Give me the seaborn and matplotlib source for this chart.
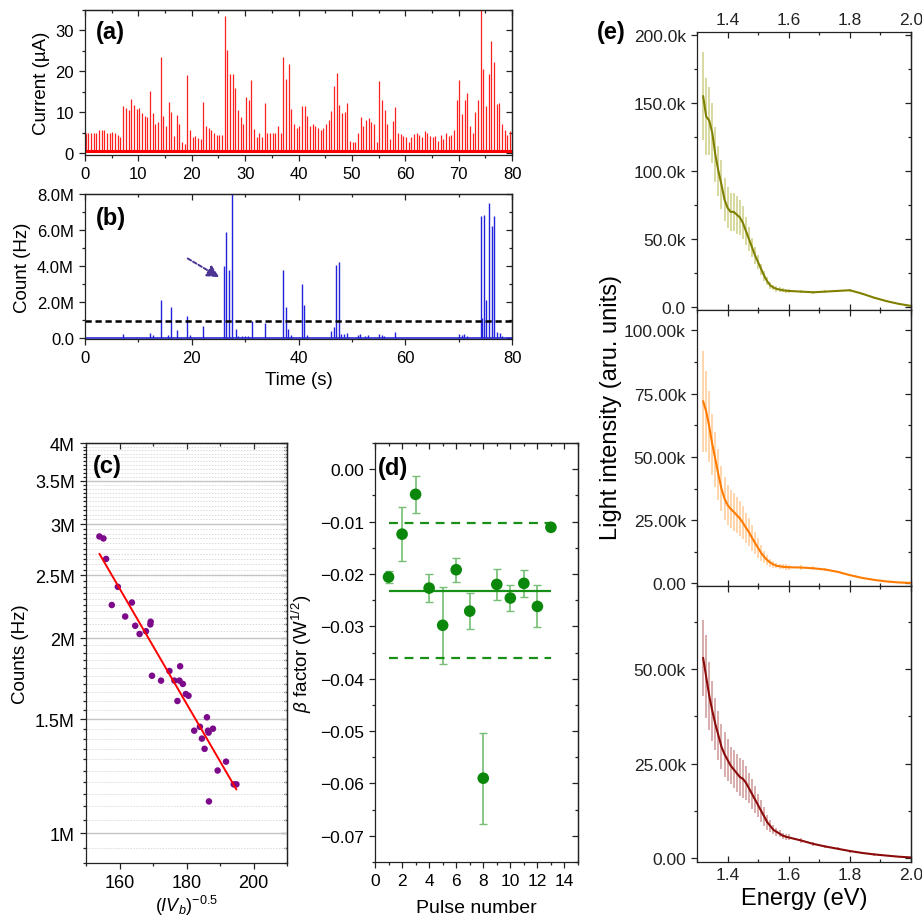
import numpy as np
import seaborn as sns
import matplotlib
matplotlib.use("Agg")
import matplotlib.pyplot as plt
from matplotlib.ticker import MultipleLocator, FixedLocator, FuncFormatter, NullFormatter

# (a) current pulses, one every 0.5 s
pulse_step_s = 0.5
pulse_offset_s = 0.15
current_baseline = 0.6
current_ua = [
    4.8, 4.9, 4.8, 5.0, 4.8, 5.5, 5.5, 5.5, 5.0, 4.8, 5.2, 5.0, 4.3, 4.0,
    11.5, 11.0, 10.5, 13.2, 11.8, 10.8, 11.0, 9.8, 9.0, 8.8, 15.2, 9.7, 7.0, 7.5,
    23.5, 9.0, 6.5, 12.4, 10.0, 4.2, 9.2, 7.0, 2.6, 2.2, 19.2, 5.5, 4.0, 4.2,
    3.7, 3.5, 12.4, 6.5, 6.0, 5.5, 5.0, 4.5, 4.5, 4.5, 33.5, 25.3, 19.3, 19.4,
    16.0, 10.6, 8.7, 7.0, 13.7, 13.0, 17.8, 5.8, 4.0, 4.8, 4.0, 12.2, 5.0, 5.0,
    4.8, 5.0, 6.5, 4.8, 23.6, 18.2, 21.8, 10.8, 7.0, 6.0, 6.5, 11.5, 11.5, 9.0,
    6.5, 7.0, 6.5, 6.0, 5.5, 6.2, 7.0, 8.0, 10.2, 16.5, 19.5, 11.7, 9.7, 10.1,
    12.3, 3.0, 2.6, 2.6, 4.8, 8.8, 6.6, 8.0, 8.5, 7.5, 7.0, 2.6, 17.5, 13.0,
    10.5, 7.0, 3.4, 7.9, 11.2, 5.0, 4.7, 4.2, 3.8, 2.8, 4.0, 4.7, 5.0, 4.4,
    4.0, 5.4, 4.8, 4.2, 4.0, 4.2, 3.0, 4.3, 3.5, 4.8, 4.2, 4.3, 5.7, 13.0,
    17.8, 9.5, 12.9, 14.6, 6.5, 5.0, 10.0, 13.0, 35.0, 20.6, 11.4, 19.4, 27.3, 22.2,
    11.9, 12.3, 7.0, 5.5, 4.4, 5.3,
]

# (b) photon count spikes (MHz)
count_time = [7.2, 12.2, 12.7, 14.2, 15.5, 16.1, 17.2, 19.2, 19.7, 22.2,
              26.1, 26.5, 27.0, 27.6, 28.2, 28.7, 29.5, 30.0, 30.5, 31.2,
              33.7, 37.1, 37.6, 38.1, 38.6, 40.6, 41.1, 41.6, 46.1, 46.6,
              47.1, 47.5, 48.0, 48.5, 49.1, 51.1, 51.6, 52.5, 53.1, 55.1,
              55.6, 56.1, 58.1, 70.1, 70.6, 71.1, 71.6, 74.1, 74.4, 74.8,
              75.2, 75.7, 76.2, 76.7, 77.2, 77.7, 78.2]
count_mhz = [0.25, 0.3, 0.15, 2.1, 0.15, 1.75, 0.45, 1.2, 0.15, 0.65,
             4.0, 5.9, 3.8, 8.1, 0.5, 0.12, 0.1, 0.1, 0.1, 0.95,
             0.85, 3.8, 1.7, 0.5, 0.15, 3.0, 1.85, 0.15, 0.4, 0.6,
             4.05, 4.2, 0.2, 0.2, 0.3, 0.15, 0.2, 0.1, 0.15, 0.2,
             0.15, 0.1, 0.35, 0.22, 0.15, 0.2, 0.1, 6.8, 1.1, 6.85,
             2.1, 7.5, 6.2, 6.8, 0.35, 0.3, 0.1]
count_threshold_mhz = 0.95

# (c) counts vs (I V_b)^-0.5
iv_inv_sqrt = [154.0, 155.2, 156.0, 159.5, 157.7, 163.7, 161.7, 164.7, 166.0, 167.9,
               169.3, 169.2, 169.7, 172.4, 174.9, 176.4, 177.3, 178.1, 177.9, 178.9,
               179.8, 180.6, 182.3, 184.0, 184.6, 185.4, 186.1, 186.4, 186.6, 187.9,
               186.7, 189.3, 191.8, 194.1, 194.9]
counts_m = [2.87, 2.85, 2.65, 2.40, 2.25, 2.27, 2.16, 2.09, 2.03, 2.05,
            2.12, 2.10, 1.75, 1.72, 1.78, 1.72, 1.60, 1.81, 1.72, 1.70,
            1.64, 1.63, 1.44, 1.46, 1.40, 1.35, 1.51, 1.44, 1.43, 1.45,
            1.12, 1.25, 1.29, 1.19, 1.19]

# (d) beta factor per pulse
pulse_no = [1, 2, 3, 4, 5, 6, 7, 8, 9, 10, 11, 12, 13]
beta = [-0.0206, -0.0124, -0.0048, -0.0227, -0.0298, -0.0192, -0.0271,
        -0.0590, -0.0220, -0.0246, -0.0218, -0.0262, -0.0111]
beta_err = [0.0012, 0.0051, 0.0035, 0.0027, 0.0074, 0.0023, 0.0034,
            0.0087, 0.0030, 0.0025, 0.0026, 0.0040, 0.0003]

# (e) emission spectra (k counts)
energy_ev = [1.32, 1.33, 1.34, 1.35, 1.36, 1.37, 1.38, 1.39, 1.40, 1.41,
             1.42, 1.43, 1.44, 1.45, 1.46, 1.47, 1.48, 1.49, 1.50, 1.51,
             1.52, 1.53, 1.54, 1.55, 1.56, 1.57, 1.58, 1.59, 1.60, 1.64,
             1.68, 1.72, 1.76, 1.80, 1.84, 1.88, 1.92, 1.96, 2.00]
spec_olive = [155, 140, 137, 128, 112, 100, 90, 79, 73, 70,
              70, 68, 66, 62, 56, 50, 44, 38, 33, 28,
              23, 19, 16, 14.5, 13.5, 13, 12.5, 12.2, 12, 11.5,
              11, 11.5, 12, 12.5, 10, 7, 4.5, 2.5, 1]
spread_olive = [32, 28, 25, 22, 20, 18, 18, 16, 15, 14,
                14, 14, 13, 12, 10, 9, 7, 6, 5, 4,
                3.5, 3, 2.5, 2, 2, 1.8, 1.5, 1.5, 1.5, 1.2,
                1.0, 1.0, 1.0, 1.0, 0.8, 0.6, 0.5, 0.4, 0.3]
spec_orange = [72, 68, 62, 55, 49, 43, 37.5, 33.5, 31, 29.5,
               28.3, 27, 25.7, 24, 22, 20.3, 18, 16, 14, 12,
               10.5, 9.2, 8.2, 7.5, 7, 6.8, 6.6, 6.5, 6.4, 6.3,
               6.0, 5.5, 4.6, 3.3, 2.2, 1.4, 0.8, 0.4, 0.2]
spread_orange = [20, 16, 14, 12, 11, 10, 9, 8.5, 8, 7.5,
                 7.5, 7, 7, 6.5, 6, 5.5, 5, 4.5, 4, 3,
                 2.5, 2, 1.5, 1.2, 1, 1, 1, 1, 1, 0.8,
                 0.8, 0.6, 0.5, 0.4, 0.3, 0.2, 0.2, 0.1, 0.1]
spec_red = [53, 48, 43, 39, 35.5, 32.5, 29.5, 27.5, 26, 24.5,
            23.5, 22.5, 21.5, 21, 20, 18.5, 17, 15.5, 14, 12.5,
            11, 9.5, 8.5, 7.5, 7, 6.5, 6, 5.7, 5.5, 4.7,
            3.8, 3.1, 2.5, 1.9, 1.4, 1.0, 0.7, 0.4, 0.2]
spread_red = [10, 11, 9, 8, 7, 6.5, 6, 6, 5.5, 5,
              5, 5, 5, 5, 4.5, 4, 4, 3.5, 3, 3,
              2.5, 2, 1.5, 1.2, 1, 1, 0.8, 0.8, 0.8, 0.6,
              0.5, 0.5, 0.4, 0.4, 0.3, 0.3, 0.2, 0.2, 0.1]

sns.set_theme(style="ticks")
plt.rcParams["font.family"] = ["Liberation Sans", "DejaVu Sans"]
plt.rcParams["mathtext.fontset"] = "custom"
plt.rcParams["mathtext.rm"] = "Liberation Sans"
plt.rcParams["mathtext.it"] = "Liberation Sans:italic"
plt.rcParams["mathtext.bf"] = "Liberation Sans:bold"
plt.rcParams["axes.edgecolor"] = "#222222"
plt.rcParams["axes.linewidth"] = 0.9
plt.rcParams["text.color"] = "black"
plt.rcParams["axes.labelcolor"] = "black"
plt.rcParams["xtick.color"] = "#222222"
plt.rcParams["ytick.color"] = "#222222"

W, H = 922, 920
fig = plt.figure(figsize=(W / 100, H / 100), dpi=100)


def box(l, t, r, b):
    return fig.add_axes([l / W, 1 - b / H, (r - l) / W, (b - t) / H])


def style_ticks(ax, xmaj, xmin, ymaj, ymin, size):
    ax.xaxis.set_major_locator(xmaj)
    ax.xaxis.set_minor_locator(xmin)
    ax.yaxis.set_major_locator(ymaj)
    ax.yaxis.set_minor_locator(ymin)
    ax.tick_params(which="both", direction="out", width=0.9, labelsize=size,
                   top=False, right=False, colors="#222222", labelcolor="black")
    ax.tick_params(which="major", length=4.5)
    ax.tick_params(which="minor", length=2.5)
    # mirrored ticks pointing inwards, Origin style
    top = ax.secondary_xaxis("top")
    top.xaxis.set_major_locator(xmaj)
    top.xaxis.set_minor_locator(xmin)
    top.xaxis.set_minor_formatter(NullFormatter())
    top.tick_params(which="both", direction="in", labeltop=False, width=0.9)
    top.tick_params(which="major", length=4.5)
    top.tick_params(which="minor", length=2.5)
    right = ax.secondary_yaxis("right")
    right.yaxis.set_major_locator(ymaj)
    right.yaxis.set_minor_locator(ymin)
    right.yaxis.set_minor_formatter(NullFormatter())
    right.tick_params(which="both", direction="in", labelright=False, width=0.9)
    right.tick_params(which="major", length=4.5)
    right.tick_params(which="minor", length=2.5)
    return top, right


def panel_tag(ax, x, y, tag):
    ax.text(x, y, tag, transform=ax.transAxes, fontsize=17, fontweight="bold",
            ha="left", va="top", zorder=5)


# ---- (a) current
ax_a = box(85, 11, 512, 156)
t_current = np.arange(len(current_ua)) * pulse_step_s + pulse_offset_s
ax_a.vlines(t_current, current_baseline, current_ua, color="#ff2020", lw=0.9)
ax_a.axhline(current_baseline, color="#ff0000", lw=2.2)
ax_a.set_xlim(0, 80)
ax_a.set_ylim(-0.5, 35)
style_ticks(ax_a, MultipleLocator(10), MultipleLocator(5),
            MultipleLocator(10), MultipleLocator(5), 12)
ax_a.set_ylabel("Current (µA)", fontsize=13.5)
panel_tag(ax_a, 0.025, 0.93, "(a)")

# ---- (b) counts
ax_b = box(85, 195, 512, 340)
ax_b.axhline(0, color="#2a2ad8", lw=1.2)
ax_b.vlines(count_time, 0, count_mhz, color="#2222dd", lw=1.0)
ax_b.axhline(count_threshold_mhz, color="black", lw=1.8, ls=(0, (2.5, 1.5)))
ax_b.annotate("", xy=(25.6, 3.3), xytext=(18.8, 4.5),
              arrowprops=dict(arrowstyle="-|>", color="#4b3492", lw=1.4,
                              ls=(0, (2, 1.2)), mutation_scale=18))
ax_b.set_xlim(0, 80)
ax_b.set_ylim(-0.05, 8.0)
style_ticks(ax_b, MultipleLocator(20), MultipleLocator(10),
            MultipleLocator(2), MultipleLocator(1), 12)
ax_b.yaxis.set_major_formatter(FuncFormatter(lambda v, p: "0.0" if abs(v) < 1e-9 else f"{v:.1f}M"))
ax_b.set_ylabel("Count (Hz)", fontsize=13.5)
ax_b.set_xlabel("Time (s)", fontsize=13.5, labelpad=4)
panel_tag(ax_b, 0.025, 0.92, "(b)")

# ---- (c) counts vs (IV_b)^-0.5, log scale
ax_c = box(86, 444, 287, 864)
ax_c.set_yscale("log")
ax_c.set_axisbelow(True)
x_c = np.array(iv_inv_sqrt)
y_c = np.array(counts_m)
coef = np.polyfit(x_c, np.log(y_c), 1)
x_fit = np.array([x_c.min(), x_c.max()])
y_fit = np.exp(np.polyval(coef, x_fit))
sns.scatterplot(x=x_c, y=y_c, color="#7d0a8a", s=22, edgecolor="none", ax=ax_c, zorder=3)
sns.lineplot(x=x_fit, y=y_fit, color="#ff0000", lw=1.4, ax=ax_c, zorder=4)
ax_c.set_xlim(150, 210)
ax_c.set_ylim(0.9, 4.0)
c_major = FixedLocator([1.0, 1.5, 2.0, 2.5, 3.0, 3.5, 4.0])
c_minor = FixedLocator(np.arange(0.9, 4.001, 0.05))
style_ticks(ax_c, MultipleLocator(20), MultipleLocator(10), c_major, c_minor, 13)
ax_c.yaxis.set_major_formatter(FuncFormatter(lambda v, p: f"{v:g}M"))
ax_c.yaxis.set_minor_formatter(NullFormatter())
ax_c.yaxis.grid(True, which="major", color="#c4c4c4", lw=1.0)
ax_c.yaxis.grid(True, which="minor", color="#dadada", lw=0.7, ls=(0, (1.5, 1.5)))
ax_c.set_ylabel("Counts (Hz)", fontsize=13.5)
ax_c.set_xlabel(r"$(IV_b)^{-0.5}$", fontsize=13, labelpad=1)
panel_tag(ax_c, 0.035, 0.975, "(c)")

# ---- (d) beta factor
ax_d = box(375, 444, 578, 863)
ax_d.errorbar(pulse_no, beta, yerr=beta_err, fmt="none", ecolor="#74bf74",
              elinewidth=1.2, capsize=3, capthick=1.0, zorder=2)
sns.scatterplot(x=pulse_no, y=beta, color="#0b870b", s=70, edgecolor="none", ax=ax_d, zorder=3)
beta_mean = np.mean(beta)
beta_sd = np.std(beta, ddof=1)
ax_d.hlines(beta_mean, min(pulse_no), max(pulse_no), color="#189018", lw=1.6)
ax_d.hlines([beta_mean + beta_sd, beta_mean - beta_sd], min(pulse_no), max(pulse_no),
            color="#189018", lw=1.6, ls=(0, (4, 3)))
ax_d.set_xlim(0, 15)
ax_d.set_ylim(-0.075, 0.005)
style_ticks(ax_d, MultipleLocator(2), MultipleLocator(1),
            MultipleLocator(0.01), MultipleLocator(0.005), 12.5)
ax_d.yaxis.set_major_formatter(FuncFormatter(
    lambda v, p: "0.00" if abs(v) < 1e-9 else f"{v:.2f}".replace("-", "\u2212")))
ax_d.set_ylabel(r"$\beta$ factor (W$^{1/2}$)", fontsize=13.5)
ax_d.set_xlabel("Pulse number", fontsize=14, labelpad=8)
panel_tag(ax_d, 0.015, 0.97, "(d)")

# ---- (e) spectra
spectra = [
    (spec_olive, spread_olive, "#808000", "#c9c97a", 33, 311, (-2, 202), 50, 25, "{:.1f}k", "0.0"),
    (spec_orange, spread_orange, "#ff7b00", "#ffc48a", 311, 587, (-1, 108), 25, 12.5, "{:.2f}k", "0.00"),
    (spec_red, spread_red, "#8b0a0a", "#c98a8a", 587, 863, (-1, 72), 25, 12.5, "{:.2f}k", "0.00"),
]
e_axes = []
for vals, spread, dark, light, top_px, bot_px, ylim, ymaj, ymin, fmt, zero in spectra:
    ax = box(697, top_px, 911, bot_px)
    y = np.array(vals)
    s = np.array(spread)
    ax.vlines(energy_ev, y - s, y + s, color=light, lw=1.1, alpha=0.9)
    sns.lineplot(x=energy_ev, y=y, color=dark, lw=1.5, ax=ax)
    ax.set_xlim(1.3, 2.0)
    ax.set_ylim(*ylim)
    ax.xaxis.set_major_locator(MultipleLocator(0.2))
    ax.xaxis.set_minor_locator(MultipleLocator(0.1))
    ax.yaxis.set_major_locator(MultipleLocator(ymaj))
    ax.yaxis.set_minor_locator(MultipleLocator(ymin))
    ax.tick_params(axis="x", which="both", direction="in", top=True, bottom=True,
                   labelbottom=False, labeltop=False, width=0.9, labelsize=12.5)
    ax.tick_params(axis="y", which="both", direction="out", width=0.9, labelsize=12.5)
    ax.tick_params(which="major", length=4.5)
    ax.tick_params(which="minor", length=2.5)
    right = ax.secondary_yaxis("right")
    right.yaxis.set_major_locator(MultipleLocator(ymaj))
    right.yaxis.set_minor_locator(MultipleLocator(ymin))
    right.tick_params(which="both", direction="in", labelright=False, width=0.9)
    right.tick_params(which="major", length=4.5)
    right.tick_params(which="minor", length=2.5)
    ax.yaxis.set_major_formatter(FuncFormatter(
        lambda v, p, f=fmt, z=zero: z if abs(v) < 1e-9 else f.format(v)))
    ax.set_xlabel("")
    ax.set_ylabel("")
    e_axes.append(ax)

e_axes[0].tick_params(axis="x", labeltop=True)
e_axes[2].tick_params(axis="x", labelbottom=True)
e_axes[2].xaxis.set_major_formatter(FuncFormatter(lambda v, p: f"{v:.1f}"))
e_axes[0].xaxis.set_major_formatter(FuncFormatter(lambda v, p: f"{v:.1f}"))
e_axes[2].set_xlabel("Energy (eV)", fontsize=17, labelpad=4)
fig.text(611 / W, 1 - 408 / H, "Light intensity (aru. units)", rotation=90,
         ha="center", va="center", fontsize=17)
fig.text(597 / W, 1 - 33 / H, "(e)", ha="left", va="center", fontsize=17, fontweight="bold")

fig.savefig("out.png", dpi=100)
